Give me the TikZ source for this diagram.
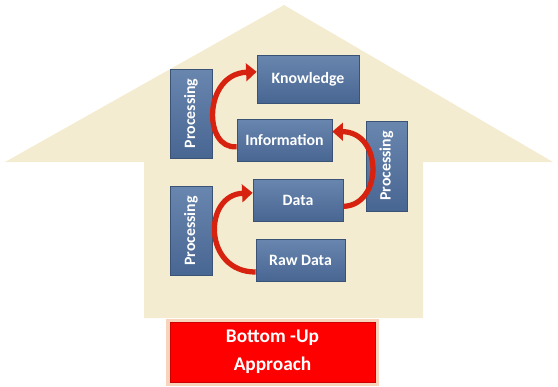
\documentclass[tikz,border=0pt]{standalone}
\usepackage{fontspec}
\setmainfont{Carlito}
\usetikzlibrary{arrows.meta}

\definecolor{housebeige}{RGB}{244,236,208}
\definecolor{boxtop}{RGB}{104,134,174}
\definecolor{boxbot}{RGB}{72,102,146}
\definecolor{boxedge}{RGB}{58,82,118}
\definecolor{flowred}{RGB}{214,34,14}
\definecolor{glow}{RGB}{240,170,120}

\tikzset{
  stage/.style={rectangle, draw=boxedge, line width=0.6pt,
    top color=boxtop, bottom color=boxbot,
    text=white, font=\bfseries\fontsize{13.5}{15}\selectfont,
    inner sep=0pt},
  process/.style={stage, rotate=90, minimum width=2.67cm, minimum height=1.26cm},
  flow/.style={draw=flowred, line width=4.5pt,
    -{Triangle[length=9pt,width=15pt]}},
}

\begin{document}
\begin{tikzpicture}[x=0.03cm, y=-0.03cm]
\useasboundingbox (0,0) rectangle (558,386);

% the house shaped arrow in the back
\fill[housebeige] (284,5) -- (553,162) -- (423,162) -- (423,318)
  -- (144,318) -- (144,162) -- (5,162) -- cycle;

% stages
\node[stage, minimum width=3.06cm, minimum height=1.44cm] (know) at (308,79) {Knowledge};
\node[stage, minimum width=2.85cm, minimum height=1.26cm] (info) at (284.5,140) {Information};
\node[stage, minimum width=2.70cm, minimum height=1.26cm] (data) at (298,200) {Data};
\node[stage, minimum width=2.67cm, minimum height=1.26cm] (raw) at (300.5,260) {Raw Data};

% processing labels
\node[process] (procA) at (191,113.5) {Processing};
\node[process] (procB) at (191,231) {Processing};
\node[process, minimum width=2.70cm, minimum height=1.23cm] (procC) at (386.5,166) {Processing};

% curved arrows between the stages
\draw[flow] (raw.195) .. controls (203,272) and (203,195) .. (data.171);
\draw[flow] (info.188) .. controls (203,150) and (203,74) .. (know.172);
\draw[flow] (data.-8) .. controls (383,205) and (383,132) .. (info.10);

% title box
\fill[glow, opacity=0.5] (166,319) rectangle (379,386);
\node[rectangle, draw=red!80!black, line width=0.6pt, fill=red,
  minimum width=6.15cm, minimum height=1.8cm, align=center,
  text=white, font=\bfseries\fontsize{16.5}{24}\selectfont] (title) at (272.5,352)
  {Bottom -Up\\Approach};
\end{tikzpicture}
\end{document}
